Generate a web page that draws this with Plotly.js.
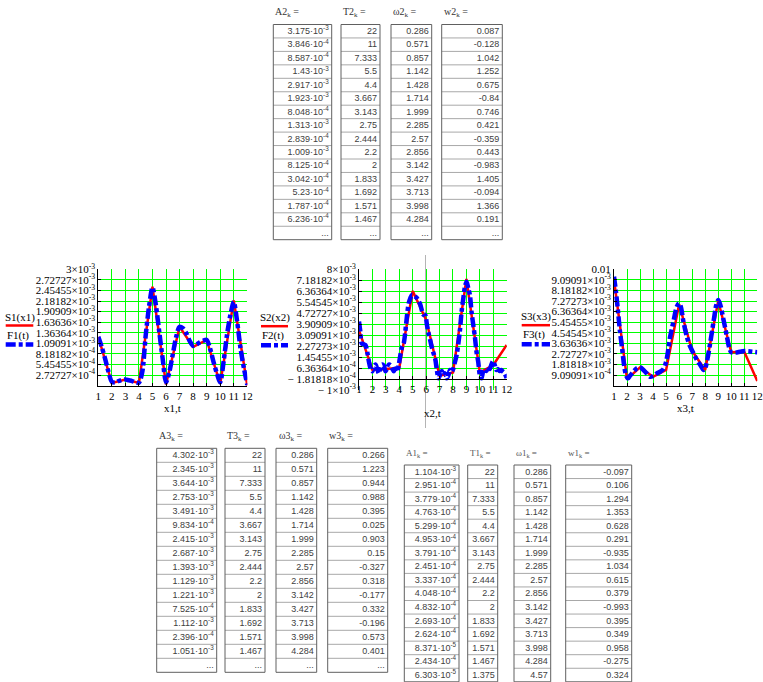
<!DOCTYPE html>
<html><head><meta charset="utf-8">
<script src="https://cdn.plot.ly/plotly-3.0.1.min.js"></script>
<style>html,body{margin:0;padding:0;background:#fff}#chart{width:763px;height:682px}</style>
</head><body><div id="chart"></div>
<script>
// ---------------- table data ----------------
const A2 = [3.175e-3, 3.846e-4, 8.587e-4, 1.43e-3, 2.917e-3, 1.923e-3, 8.048e-4, 1.313e-3, 2.839e-4, 1.009e-3, 8.125e-4, 3.042e-4, 5.23e-4, 1.787e-4, 6.236e-4];
const T2 = [22, 11, 7.333, 5.5, 4.4, 3.667, 3.143, 2.75, 2.444, 2.2, 2, 1.833, 1.692, 1.571, 1.467];
const om2 = [0.286, 0.571, 0.857, 1.142, 1.428, 1.714, 1.999, 2.285, 2.57, 2.856, 3.142, 3.427, 3.713, 3.998, 4.284];
const w2 = [0.087, -0.128, 1.042, 1.252, 0.675, -0.84, 0.746, 0.421, -0.359, 0.443, -0.983, 1.405, -0.094, 1.366, 0.191];

const A3 = [4.302e-3, 2.345e-3, 3.644e-3, 2.753e-3, 3.491e-3, 9.834e-4, 2.415e-3, 2.687e-3, 1.393e-3, 1.129e-3, 1.221e-3, 7.525e-4, 1.112e-3, 2.396e-4, 1.051e-3];
const T3 = [22, 11, 7.333, 5.5, 4.4, 3.667, 3.143, 2.75, 2.444, 2.2, 2, 1.833, 1.692, 1.571, 1.467];
const om3 = [0.286, 0.571, 0.857, 1.142, 1.428, 1.714, 1.999, 2.285, 2.57, 2.856, 3.142, 3.427, 3.713, 3.998, 4.284];
const w3 = [0.266, 1.223, 0.944, 0.988, 0.395, 0.025, 0.903, 0.15, -0.327, 0.318, -0.177, 0.332, -0.196, 0.573, 0.401];

const A1 = [1.104e-3, 2.951e-4, 3.779e-4, 4.763e-4, 5.299e-4, 4.953e-4, 3.791e-4, 2.451e-4, 3.337e-4, 4.048e-4, 4.832e-4, 2.693e-4, 2.624e-4, 8.371e-5, 2.434e-4, 6.303e-5];
const T1 = [22, 11, 7.333, 5.5, 4.4, 3.667, 3.143, 2.75, 2.444, 2.2, 2, 1.833, 1.692, 1.571, 1.467, 1.375];
const om1 = [0.286, 0.571, 0.857, 1.142, 1.428, 1.714, 1.999, 2.285, 2.57, 2.856, 3.142, 3.427, 3.713, 3.998, 4.284, 4.57];
const w1 = [-0.097, 0.106, 1.294, 1.353, 0.628, 0.291, -0.935, 1.034, 0.615, 0.379, -0.993, 0.395, 0.349, 0.958, -0.275, 0.324];

// ---------------- chart data (values in units of 1e-3) ----------------
const xKnots = [1, 2, 3, 4, 5, 6, 7, 8, 9, 10, 11, 12];
const S1_e3 = [1.26, 0.07, 0.16, 0.07, 2.55, 0.03, 1.52, 1.0, 1.18, 0.05, 2.2, 0.0];
const S2_e3 = [3.47, 0.49, 0.56, 0.66, 6.38, 4.22, 0.06, 0.31, 7.28, 0.29, 0.86, 2.35];
const S3_e3 = [9.1, 0.57, 1.58, 0.77, 1.35, 6.99, 2.98, 1.35, 7.28, 2.87, 2.92, 0.40];

const t1 = [1, 1.25, 1.5, 1.75, 2, 2.25, 2.5, 2.75, 3, 3.25, 3.5, 3.75, 4, 4.25, 4.5, 4.75, 5, 5.25, 5.5, 5.75, 6, 6.25, 6.5, 6.75, 7, 7.25, 7.5, 7.75, 8, 8.25, 8.5, 8.75, 9, 9.25, 9.5, 9.75, 10, 10.25, 10.5, 10.75, 11, 11.25, 11.5, 11.75, 12];
const F1_e3 = [1.26, 1.0, 0.70, 0.36, 0.10, 0.08, 0.12, 0.15, 0.16, 0.14, 0.12, 0.09, 0.08, 0.36, 1.3, 2.05, 2.53, 2.08, 1.39, 0.70, 0.09, 0.36, 0.81, 1.26, 1.52, 1.48, 1.35, 1.15, 1.03, 1.06, 1.12, 1.16, 1.18, 0.96, 0.62, 0.32, 0.09, 0.62, 1.31, 1.82, 2.16, 1.65, 0.96, 0.45, 0.02];

const t2 = [1.0, 1.1, 1.2, 1.37, 1.49, 1.62, 1.74, 1.86, 1.99, 2.11, 2.23, 2.36, 2.48, 2.6, 2.73, 2.85, 2.97, 3.1, 3.22, 3.34, 3.47, 3.59, 3.71, 3.84, 3.96, 4.08, 4.21, 4.33, 4.45, 4.58, 4.7, 4.82, 4.95, 5.07, 5.19, 5.32, 5.44, 5.56, 5.69, 5.81, 5.93, 6.06, 6.18, 6.3, 6.43, 6.55, 6.67, 6.8, 6.92, 7.04, 7.17, 7.29, 7.41, 7.54, 7.66, 7.78, 7.9, 8.03, 8.15, 8.27, 8.4, 8.52, 8.64, 8.77, 8.89, 9.01, 9.14, 9.26, 9.38, 9.51, 9.63, 9.75, 9.88, 10.0, 10.12, 10.25, 10.37, 10.49, 10.62, 10.74, 10.86, 10.99, 11.11, 11.23, 11.36, 11.48, 11.6, 11.73, 11.85, 12.0];
const F2_e3 = [4.1, 3.35, 2.48, 2.4, 2.35, 1.8, 1.1, 0.6, 0.4, 0.74, 0.9, 0.56, 0.24, 0.6, 0.9, 0.8, 0.4, 0.6, 0.9, 0.86, 0.6, 0.4, 0.6, 0.36, 0.86, 1.6, 2.23, 2.48, 3.35, 4.6, 5.46, 5.84, 6.1, 6.03, 5.96, 5.84, 5.64, 5.39, 4.9, 4.6, 4.6, 3.85, 3.22, 2.73, 2.15, 1.73, 1.36, 0.49, -0.13, 0.16, 0.41, 0.11, 0.24, -0.13, 0.11, 0.49, 0.36, 0.61, 1.1, 1.6, 2.48, 3.47, 4.84, 5.84, 6.7, 7.08, 6.58, 6.09, 4.84, 3.85, 2.97, 1.86, 1.1, 0.11, -0.13, 0.41, 0.56, 0.41, 0.74, 0.56, 0.9, 1.16, 0.86, 0.49, 0.56, 0.41, 0.49, 0.36, 0.24, -0.13];

const t3 = [1, 1.15, 1.31, 1.46, 1.62, 1.77, 1.92, 2.08, 2.23, 2.49, 2.74, 3.0, 3.26, 3.51, 3.77, 4.0, 4.28, 4.54, 4.79, 5.0, 5.18, 5.31, 5.56, 5.82, 6.0, 6.13, 6.33, 6.59, 6.85, 7.1, 7.36, 7.62, 7.87, 8.0, 8.18, 8.38, 8.64, 8.85, 9.0, 9.15, 9.41, 9.67, 9.82, 10.0, 10.31, 10.69, 11.0, 12.0];
const F3_e3 = [9.37, 8.08, 6.36, 4.64, 3.21, 1.78, 0.92, 0.63, 0.86, 1.2, 1.49, 1.58, 1.35, 1.06, 0.77, 0.83, 1.06, 1.2, 1.43, 2.06, 3.21, 4.21, 5.5, 6.79, 7.08, 6.79, 5.5, 4.21, 3.35, 2.78, 2.21, 1.78, 1.35, 1.49, 2.35, 3.64, 5.5, 6.93, 7.36, 6.99, 5.64, 4.21, 3.35, 2.87, 2.84, 2.92, 2.98, 2.87];

// ---------------- tick labels ----------------
const xTicks = [1, 2, 3, 4, 5, 6, 7, 8, 9, 10, 11, 12];
const y1Ticks = [0, 2.72727e-4, 5.45455e-4, 8.18182e-4, 1.09091e-3, 1.36364e-3, 1.63636e-3, 1.90909e-3, 2.18182e-3, 2.45455e-3, 2.72727e-3, 3e-3];
const y2Ticks = [-1e-3, -1.81818e-4, 6.36364e-4, 1.45455e-3, 2.27273e-3, 3.09091e-3, 3.90909e-3, 4.72727e-3, 5.54545e-3, 6.36364e-3, 7.18182e-3, 8e-3];
const y3Ticks = [0, 9.09091e-4, 1.81818e-3, 2.72727e-3, 3.63636e-3, 4.54545e-3, 5.45455e-3, 6.36364e-3, 7.27273e-3, 8.18182e-3, 9.09091e-3, 0.01];

// ---------------- helpers ----------------
const W = 763, H = 682;
const PX = v => v / W, PY = v => 1 - v / H;
const serif = 'Liberation Serif, Times New Roman, serif';
const cellFont = {family: 'Liberation Sans Narrow, Liberation Sans, Arial, sans-serif', size: 9, color: '#404040'};
const milli = a => a.map(v => v * 1e-3);

function fmtAxis(v) {
  if (v === 0) return '';
  if (Math.abs(v) >= 0.01) return String(v);
  let s = v.toExponential();
  let sign = '';
  if (s[0] === '-') { sign = '\u2212 '; s = s.slice(1); }
  const [m, e] = s.split('e');
  return sign + m + '\u00d710<sup>' + e + '</sup>';
}
function fmtSci(v) {
  let [m, e] = v.toExponential(3).split('e');
  m = m.replace(/\.?0+$/, '');
  return m + '\u00b710<sup>' + e + '</sup>';
}

const traces = [];
const annotations = [];
const shapes = [];

// tables are drawn on a hidden full-page axis pair (x4/y4) measured in page pixels
function tableCol(texts, x0, x1, yTop, rowH, ellipsis) {
  const vals = texts.slice();
  if (ellipsis) vals.push('...');
  const n = vals.length;
  const ys = vals.map((_, i) => yTop + (i + 0.5) * rowH + 0.5);
  traces.push({type: 'scatter', mode: 'text', x: vals.map(() => x1 - 3), y: ys, text: vals,
    textposition: 'middle left', textfont: cellFont, xaxis: 'x4', yaxis: 'y4', hoverinfo: 'skip', cliponaxis: false});
  for (let i = 1; i < n; i++) {
    shapes.push({type: 'line', xref: 'x4', yref: 'y4', x0: x0, x1: x1, y0: yTop + i * rowH, y1: yTop + i * rowH,
      line: {color: '#a8a8a8', width: 1}});
  }
  shapes.push({type: 'rect', xref: 'x4', yref: 'y4', x0: x0, x1: x1, y0: yTop, y1: yTop + n * rowH,
    line: {color: '#606060', width: 1}, fillcolor: 'rgba(0,0,0,0)'});
}
function header(text, x, y, size, color) {
  annotations.push({text: text, x: PX(x), y: PY(y), xref: 'paper', yref: 'paper', xanchor: 'left', yanchor: 'middle',
    showarrow: false, font: {family: serif, size: size || 10, color: color || '#333'}});
}

// top tables
const topY = 24.5, topH = 13.45;
tableCol(A2.map(fmtSci), 273.3, 331.7, topY, topH, true);
tableCol(T2.map(String), 341, 380, topY, topH, true);
tableCol(om2.map(String), 391, 431.7, topY, topH, true);
tableCol(w2.map(String), 441.7, 502.3, topY, topH, true);
header('A2<sub>k</sub> =', 273, 13); header('T2<sub>k</sub> =', 341, 13);
header('\u03c92<sub>k</sub> =', 391, 13); header('w2<sub>k</sub> =', 442, 13);

// bottom-left tables
const blY = 448.3, blH = 14;
tableCol(A3.map(fmtSci), 156.7, 216.7, blY, blH, true);
tableCol(T3.map(String), 225, 265, blY, blH, true);
tableCol(om3.map(String), 276, 316.7, blY, blH, true);
tableCol(w3.map(String), 327.7, 387.7, blY, blH, true);
header('A3<sub>k</sub> =', 156.7, 436.7); header('T3<sub>k</sub> =', 225, 436.7);
header('\u03c93<sub>k</sub> =', 276.7, 436.7); header('w3<sub>k</sub> =', 326.7, 436.7);

// bottom-right tables
const brY = 465, brH = 13.55;
tableCol(A1.map(fmtSci), 404.3, 459, brY, brH, false);
tableCol(T1.map(String), 467.7, 497.7, brY, brH, false);
tableCol(om1.map(String), 514, 550.7, brY, brH, false);
tableCol(w1.map(String), 565.7, 631.7, brY, brH, false);
header('A1<sub>k</sub> =', 404.3, 453.3, 9, '#555'); header('T1<sub>k</sub> =', 467.7, 453.3, 9, '#555');
header('\u03c91<sub>k</sub> =', 514, 453.3, 9, '#555'); header('w1<sub>k</sub> =', 565.7, 453.3, 9, '#555');

// ---------------- charts ----------------
const red = '#ff0000', blue = '#0000ff';
const blueDash = '10px,3px,4px,3px';
function addChart(n, xs, S, ts, F) {
  const xa = n === 1 ? 'x' : 'x' + n, ya = n === 1 ? 'y' : 'y' + n;
  traces.push({type: 'scatter', mode: 'lines', x: xs, y: milli(S), xaxis: xa, yaxis: ya,
    line: {color: red, width: 2.5}, hoverinfo: 'skip'});
  traces.push({type: 'scatter', mode: 'lines', x: ts, y: milli(F), xaxis: xa, yaxis: ya,
    line: {color: blue, width: 4.5, dash: blueDash, shape: 'spline', smoothing: 0.8}, hoverinfo: 'skip'});
}
addChart(1, xKnots, S1_e3, t1, F1_e3);
addChart(2, xKnots, S2_e3, t2, F2_e3);
addChart(3, xKnots, S3_e3, t3, F3_e3);

const tickFont = {family: serif, size: 11, color: '#000'};
function xAxis(d, anchor, extra) {
  return Object.assign({domain: [PX(d[0]), PX(d[1])], range: [1, 12], tickvals: xTicks, ticktext: xTicks.map(String),
    tickangle: 0, showgrid: true, gridcolor: '#00ff00', gridwidth: 1, showline: true, linecolor: '#000', linewidth: 1,
    ticks: 'inside', ticklen: 3, tickcolor: '#000', zeroline: false, tickfont: tickFont, anchor: anchor, fixedrange: true}, extra || {});
}
function yAxis(d, range, ticks, anchor) {
  return {domain: [PY(d[1]), PY(d[0])], range: range, tickvals: ticks, ticktext: ticks.map(fmtAxis),
    showgrid: true, gridcolor: '#00ff00', gridwidth: 1, showline: true, linecolor: '#000', linewidth: 1,
    ticks: 'inside', ticklen: 3, tickcolor: '#000', zeroline: false, tickfont: tickFont, anchor: anchor, fixedrange: true};
}

const c1x = [98.3, 247.3], c1y = [269.3, 385.7];
const c2x = [359, 506.7], c2y = [269.3, 390];
const c3x = [614, 757.3], c3y = [269.3, 385.7];

function label(text, x, y, size) {
  annotations.push({text: text, x: PX(x), y: PY(y), xref: 'paper', yref: 'paper', xanchor: 'center', yanchor: 'middle',
    showarrow: false, font: {family: serif, size: size || 11, color: '#000'}});
}
label('x1,t', (c1x[0] + c1x[1]) / 2, 408);
label('x2,t', (c2x[0] + c2x[1]) / 2, 413);
label('x3,t', (c3x[0] + c3x[1]) / 2, 408);

// legends (label above its line sample, as in the original)
function legendBlock(sName, fName, x0, x1, yText) {
  label(sName, (x0 + x1) / 2, yText, 11);
  shapes.push({type: 'line', xref: 'paper', yref: 'paper', x0: PX(x0), x1: PX(x1), y0: PY(yText + 8.5), y1: PY(yText + 8.5),
    line: {color: red, width: 2.5}});
  label(fName, (x0 + x1) / 2 - 2, yText + 18, 11);
  shapes.push({type: 'line', xref: 'paper', yref: 'paper', x0: PX(x0), x1: PX(x1), y0: PY(yText + 27.5), y1: PY(yText + 27.5),
    line: {color: blue, width: 4.5, dash: blueDash}});
}
legendBlock('S1(x1)', 'F1(t)', 5.7, 33.3, 317);
legendBlock('S2(x2)', 'F2(t)', 261, 288, 317.7);
legendBlock('S3(x3)', 'F3(t)', 521.7, 550, 316.7);

// thin grey divider line
shapes.push({type: 'line', xref: 'paper', yref: 'paper', x0: PX(425.5), x1: PX(425.5), y0: PY(255), y1: PY(428),
  line: {color: '#b4b4b4', width: 1}, layer: 'below'});

const layout = {
  width: W, height: H, margin: {l: 0, r: 0, t: 0, b: 0}, paper_bgcolor: '#fff', plot_bgcolor: 'rgba(0,0,0,0)',
  showlegend: false, annotations: annotations, shapes: shapes,
  xaxis: xAxis(c1x, 'y'), yaxis: yAxis(c1y, [0, 3e-3], y1Ticks, 'x'),
  xaxis2: xAxis(c2x, 'free', {position: PY(379)}), yaxis2: yAxis(c2y, [-1e-3, 8e-3], y2Ticks, 'x2'),
  xaxis3: xAxis(c3x, 'y3'), yaxis3: yAxis(c3y, [0, 0.01], y3Ticks, 'x3'),
  xaxis4: {domain: [0, 1], range: [0, W], visible: false, fixedrange: true, anchor: 'y4'},
  yaxis4: {domain: [0, 1], range: [H, 0], visible: false, fixedrange: true, anchor: 'x4'}
};
Plotly.newPlot('chart', traces, layout, {displayModeBar: false, staticPlot: true});
</script></body></html>
